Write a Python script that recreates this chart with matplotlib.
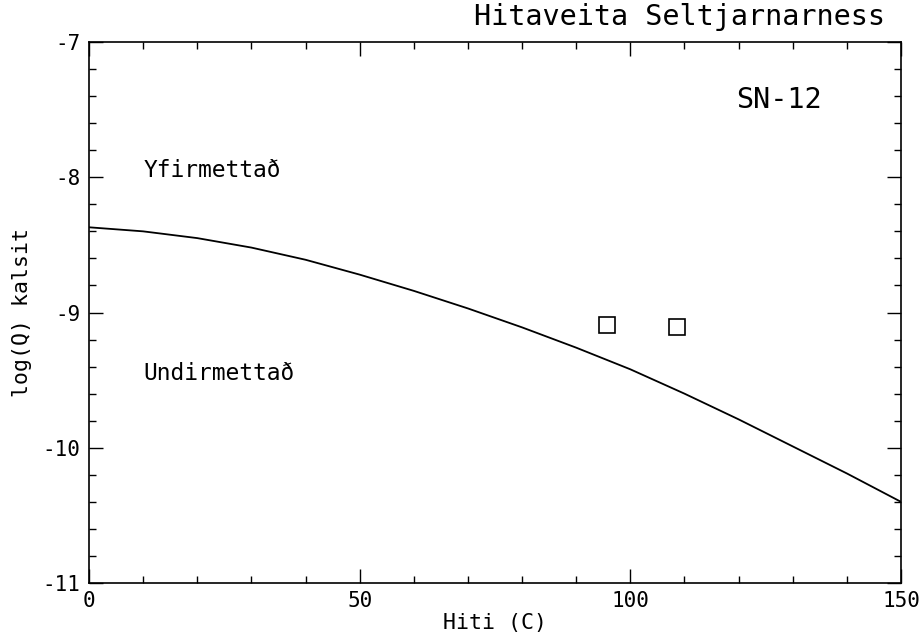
import numpy as np
import matplotlib
matplotlib.use('Agg')
import matplotlib.pyplot as plt
from matplotlib.ticker import MultipleLocator, FormatStrFormatter

plt.rcParams['font.family'] = 'DejaVu Sans Mono'
plt.rcParams['axes.unicode_minus'] = False

# mettunarferill kalsits (log Q vs hiti)
hiti = [0, 10, 20, 30, 40, 50, 60, 70, 80, 90, 100, 110, 120, 130, 140, 150]
logq = [-8.37, -8.40, -8.45, -8.52, -8.61, -8.72, -8.84, -8.97, -9.11, -9.26,
        -9.42, -9.60, -9.79, -9.99, -10.19, -10.40]

# sýni SN-12
syni_hiti = [95.6, 108.7]
syni_logq = [-9.09, -9.11]

fig = plt.figure(figsize=(9.23, 6.39), dpi=100)
ax = fig.add_axes([0.0964, 0.0876, 0.8798, 0.8467])

ax.plot(hiti, logq, color='black', lw=1.3)
ax.plot(syni_hiti, syni_logq, 's', markersize=11.5, markerfacecolor='none',
        markeredgecolor='black', markeredgewidth=1.2)

ax.set_xlim(0, 150)
ax.set_ylim(-11, -7)
ax.xaxis.set_major_locator(MultipleLocator(50))
ax.xaxis.set_minor_locator(MultipleLocator(10))
ax.yaxis.set_major_locator(MultipleLocator(1))
ax.yaxis.set_minor_locator(MultipleLocator(0.2))
ax.yaxis.set_major_formatter(FormatStrFormatter('%d'))

ax.tick_params(which='both', direction='in', top=True, right=True,
               labelsize=15, width=1.0, pad=6)
ax.tick_params(which='major', length=10)
ax.tick_params(which='minor', length=5)
for s in ax.spines.values():
    s.set_linewidth(1.2)

ax.set_xlabel('Hiti (C)', fontsize=15.5, labelpad=1)
ax.set_ylabel('log(Q) kalsit', fontsize=15.5, labelpad=8)

ax.text(10, -7.95, 'Yfirmettað', fontsize=16.5, va='center', ha='left')
ax.text(10, -9.45, 'Undirmettað', fontsize=16.5, va='center', ha='left')
ax.text(119.6, -7.43, 'SN-12', fontsize=20.5, va='center', ha='left')

fig.text(0.959, 0.973, 'Hitaveita Seltjarnarness', fontsize=20.5,
         ha='right', va='center')

fig.savefig('out.png', dpi=100)
